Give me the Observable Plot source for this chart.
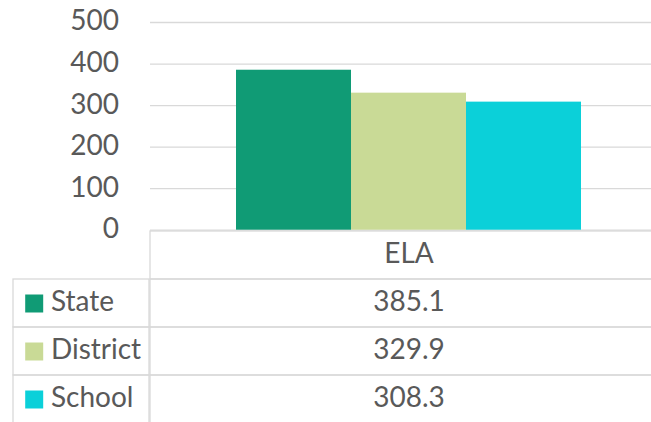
<!DOCTYPE html>
<html>
<head>
<meta charset="utf-8">
<script src="https://cdn.jsdelivr.net/npm/d3@7"></script>
<script src="https://cdn.jsdelivr.net/npm/@observablehq/plot@0.6"></script>
<style>
  html, body { margin: 0; padding: 0; background: #ffffff; }
  #chart { position: relative; width: 651px; height: 422px; overflow: hidden; }
  #chart svg { position: absolute; left: 0; top: 0; }
</style>
</head>
<body>
<div id="chart"></div>
<script>
// ---- data ----
const categories = ["ELA"];
const series = ["State", "District", "School"];
const values = [385.1, 329.9, 308.3];
const seriesColors = ["#109B75", "#C9DA96", "#0BD0D9"];
const yTicks = [0, 100, 200, 300, 400, 500];

// ---- style ----
const FONT = "Lato, 'Open Sans', sans-serif";
const TEXT = "#595959";
const GRID = "#D9D9D9";
const FS = 28;

const rows = series.map((s, i) => ({series: s, category: categories[0], value: values[i]}));
const tableRows = [{row: "header", category: categories[0], label: categories[0]}]
  .concat(rows.map(d => ({row: d.series, category: d.category, label: d.value.toFixed(1)})));
const rowDomain = ["header", ...series];
const yTable = {type: "band", domain: rowDomain, range: [230.5, 423], padding: 0};
const colorScale = {domain: series, range: seriesColors};

const container = document.getElementById("chart");

// Column chart
const chart = Plot.plot({
  width: 651, height: 422,
  marginLeft: 150, marginRight: 0, marginTop: 0, marginBottom: 0,
  style: {background: "transparent", fontFamily: FONT},
  x: {type: "band", domain: series, range: [235, 581], padding: 0, axis: null},
  y: {domain: [0, 500], range: [229.7, 22], axis: null},
  color: colorScale,
  marks: [
    Plot.ruleY(yTicks, {stroke: GRID, strokeWidth: 1.3}),
    Plot.axisY(yTicks, {anchor: "left", tickSize: 0, tickPadding: 31.5, fontSize: FS, fill: TEXT, fontFamily: FONT, label: null, dy: -1}),
    Plot.barY(rows, {x: "series", y: "value", fill: "series"})
  ]
});
container.appendChild(chart);

// Data table: value column
const table = Plot.plot({
  width: 651, height: 422,
  margin: 0,
  style: {background: "transparent", fontFamily: FONT},
  x: {type: "band", domain: categories, range: [149.3, 666.7], padding: 0, axis: null},
  y: {...yTable, axis: null},
  marks: [
    Plot.cell(tableRows, {x: "category", y: "row", fill: "none", stroke: GRID, strokeWidth: 1.3}),
    Plot.text(tableRows, {x: "category", y: "row", text: "label", fontSize: FS, fill: TEXT, fontFamily: FONT, dy: -1})
  ]
});
container.appendChild(table);

// Data table: legend column
const legendRows = series.map(s => ({series: s, col: "series"}));
const legend = Plot.plot({
  width: 651, height: 422,
  margin: 0,
  style: {background: "transparent", fontFamily: FONT},
  x: {type: "band", domain: ["series"], range: [13.3, 149.3], padding: 0, axis: null},
  y: {...yTable, axis: null},
  color: colorScale,
  marks: [
    Plot.cell(legendRows, {x: "col", y: "series", fill: "none", stroke: GRID, strokeWidth: 1.3}),
    Plot.dot(legendRows, {x: "col", y: "series", fill: "series", symbol: "square", r: 18 / Math.sqrt(Math.PI), dx: -47.3}),
    Plot.text(legendRows, {x: "col", y: "series", text: "series", textAnchor: "start", dx: -30.6, dy: -1, fontSize: FS, fill: TEXT, fontFamily: FONT})
  ]
});
container.appendChild(legend);
</script>
</body>
</html>
